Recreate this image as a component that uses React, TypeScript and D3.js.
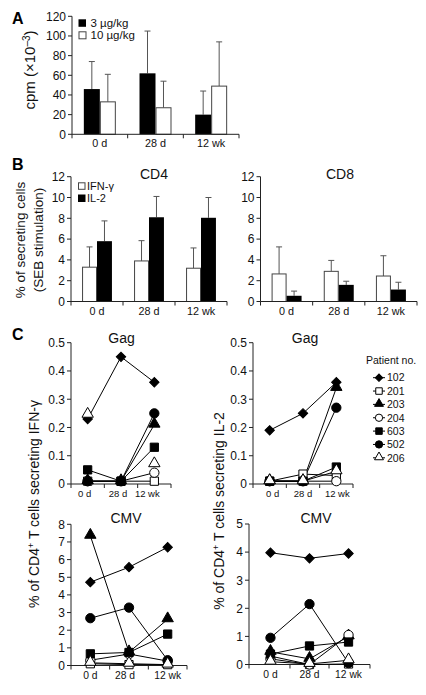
import React from "react";
import * as d3 from "d3";

// ---------- DATA ----------
const timepoints = ["0 d", "28 d", "12 wk"];

// Panel A: proliferation (cpm x10^-3)
const doseLabels = ["3 µg/kg", "10 µg/kg"];
const dose3Mean = [46, 62, 20];
const dose3Sd = [28, 43, 24];
const dose10Mean = [33, 27, 49];
const dose10Sd = [28, 27, 45];
const aTicks = [0, 20, 40, 60, 80, 100, 120];

// Panel B: % secreting cells (SEB)
const cytokineLabels = ["IFN-γ", "IL-2"];
const cd4IfnMean = [3.3, 3.9, 3.2];
const cd4IfnSd = [1.95, 1.95, 1.95];
const cd4Il2Mean = [5.8, 8.1, 8.05];
const cd4Il2Sd = [1.95, 2.0, 1.95];
const cd8IfnMean = [2.65, 2.9, 2.45];
const cd8IfnSd = [2.6, 1.05, 1.95];
const cd8Il2Mean = [0.55, 1.6, 1.15];
const cd8Il2Sd = [0.45, 0.35, 0.7];
const bTicks = [0, 2, 4, 6, 8, 10, 12];

// Panel C: per-patient responses
const patients = ["102", "201", "203", "204", "603", "502", "206"];
const gagIfn: (number | null)[][] = [
  [0.23, 0.45, 0.36],
  [0.01, 0.01, 0.01],
  [0.01, 0.01, 0.21],
  [0.01, 0.01, 0.04],
  [0.05, 0.01, 0.13],
  [0.01, 0.01, 0.25],
  [0.245, null, 0.07],
];
const gagIl2: (number | null)[][] = [
  [0.19, 0.25, 0.36],
  [0.01, 0.035, 0.03],
  [0.01, 0.01, 0.34],
  [0.01, 0.01, 0.01],
  [0.01, 0.01, 0.06],
  [0.01, 0.01, 0.27],
  [0.01, 0.01, 0.045],
];
const cmvIfn: (number | null)[][] = [
  [4.72, 5.57, 6.7],
  [0.1, 0.05, 0.05],
  [7.35, 0.75, 2.62],
  [0.3, 0.65, 0.25],
  [0.66, 0.74, 1.78],
  [2.68, 3.28, 0.3],
  [0.15, 0.1, 0.05],
];
const cmvIl2: (number | null)[][] = [
  [3.98, 3.78, 3.95],
  [0.3, 0.0, 0.02],
  [0.45, 0.2, 1.0],
  [0.2, 0.0, 1.05],
  [0.37, 0.66, 0.8],
  [0.95, 2.15, 0.05],
  [0.1, 0.02, 0.15],
];
const gagTicks = [0, 0.1, 0.2, 0.3, 0.4, 0.5];
const cmvIfnTicks = [0, 1, 2, 3, 4, 5, 6, 7, 8];
const cmvIl2Ticks = [0, 1, 2, 3, 4, 5];

// ---------- STYLE ----------
const FONT = "'Liberation Sans', Arial, Helvetica, sans-serif";
const AXIS = "#222";
const ERR = "#555";
const markerStyle: Record<string, { shape: string; filled: boolean }> = {
  "102": { shape: "diamond", filled: true },
  "201": { shape: "square", filled: false },
  "203": { shape: "triangle", filled: true },
  "204": { shape: "circle", filled: false },
  "603": { shape: "square", filled: true },
  "502": { shape: "circle", filled: true },
  "206": { shape: "triangle", filled: false },
};

function symbolPath(shape: string, scale = 1) {
  if (shape === "diamond") return d3.symbol(d3.symbolSquare, 44 * scale)()!;
  if (shape === "square") return d3.symbol(d3.symbolSquare, 68 * scale)()!;
  if (shape === "triangle") return d3.symbol(d3.symbolTriangle, 56 * scale)()!;
  return d3.symbol(d3.symbolCircle, 68 * scale)()!;
}

function Marker({ id, x, y, scale = 1 }: { id: string; x: number; y: number; scale?: number }) {
  const st = markerStyle[id];
  const rot = st.shape === "diamond" ? " rotate(45)" : "";
  const dy = st.shape === "triangle" ? -0.8 * Math.sqrt(scale) : 0;
  return (
    <path
      d={symbolPath(st.shape, scale)}
      transform={`translate(${x},${y + dy})${rot}`}
      fill={st.filled ? "#000" : "#fff"}
      stroke="#000"
      strokeWidth={1}
    />
  );
}

function YAxis({ x, scale, ticks, fmt, fontSize = 12 }: any) {
  const [d0, d1] = scale.domain();
  return (
    <g>
      <line x1={x} x2={x} y1={scale(d0)} y2={scale(d1)} stroke={AXIS} strokeWidth={1} />
      {ticks.map((t: number) => (
        <g key={t}>
          <line x1={x - 4} x2={x} y1={scale(t)} y2={scale(t)} stroke={AXIS} />
          <text
            x={x - 6}
            y={scale(t)}
            dy="0.36em"
            textAnchor="end"
            fontSize={fontSize}
            fontFamily={FONT}
            fill="#111"
          >
            {fmt ? fmt(t) : t}
          </text>
        </g>
      ))}
    </g>
  );
}

function XAxisBand({ y, x0, x1, boundaries, labels, fontSize = 10.8, labelDy = 13 }: any) {
  return (
    <g>
      <line x1={x0} x2={x1} y1={y} y2={y} stroke={AXIS} strokeWidth={1} />
      {boundaries.map((b: number, i: number) => (
        <line key={i} x1={b} x2={b} y1={y} y2={y + 4} stroke={AXIS} />
      ))}
      {labels.map((l: any, i: number) => (
        <text
          key={i}
          x={l.x}
          y={y + labelDy}
          textAnchor="middle"
          fontSize={fontSize}
          fontFamily={FONT}
          fill="#111"
        >
          {l.text}
        </text>
      ))}
    </g>
  );
}

function BarPanel({ x0, x1, yTop, yBottom, max, ticks, series }: any) {
  const xb = d3.scaleBand().domain(timepoints).range([x0, x1]).padding(0);
  const inner = d3
    .scaleBand()
    .domain(series.map((_: any, i: number) => String(i)))
    .range([0, xb.bandwidth()])
    .paddingInner(0)
    .paddingOuter(0.74);
  const y = d3.scaleLinear().domain([0, max]).range([yBottom, yTop]);
  const boundaries = [...timepoints.map((t) => xb(t)!), x1];
  return (
    <g>
      {series.map((s: any, si: number) =>
        timepoints.map((t, i) => {
          const bx = xb(t)! + inner(String(si))!;
          const bw = inner.bandwidth();
          const top = y(s.mean[i]);
          const et = y(s.mean[i] + s.sd[i]);
          const cx = bx + bw / 2;
          return (
            <g key={`${si}-${i}`}>
              <line x1={cx} x2={cx} y1={top} y2={et} stroke={ERR} strokeWidth={1} />
              <line x1={cx - 3} x2={cx + 3} y1={et} y2={et} stroke={ERR} strokeWidth={1} />
              <rect
                x={bx + (s.filled ? 0 : 0.5)}
                y={top}
                width={bw - (s.filled ? 0 : 1)}
                height={y(0) - top}
                fill={s.filled ? "#000" : "#fff"}
                stroke={s.filled ? "none" : "#444"}
                strokeWidth={1}
              />
            </g>
          );
        })
      )}
      <YAxis x={x0} scale={y} ticks={ticks} />
      <XAxisBand
        y={y(0)}
        x0={x0}
        x1={x1}
        boundaries={boundaries}
        labels={timepoints.map((t) => ({ text: t, x: xb(t)! + xb.bandwidth() / 2 }))}
      />
    </g>
  );
}

function LinePanel({ x0, x1, yTop, yBottom, max, ticks, data, fmt, pad = 0.5, labelFont = 10.3, labelShift = [0, 0, 0] }: any) {
  const xp = d3.scalePoint().domain(timepoints).range([x0, x1]).padding(pad);
  const y = d3.scaleLinear().domain([0, max]).range([yBottom, yTop]);
  const step = xp.step();
  const boundaries = [x0, ...timepoints.slice(0, -1).map((t) => xp(t)! + step / 2), x1];
  const line = d3
    .line<number | null>()
    .defined((d) => d !== null)
    .x((_, i) => xp(timepoints[i])!)
    .y((d) => y(d as number));
  return (
    <g>
      <YAxis x={x0} scale={y} ticks={ticks} fmt={fmt} />
      <XAxisBand
        y={y(0)}
        x0={x0}
        x1={x1}
        boundaries={boundaries}
        fontSize={labelFont}
        labels={timepoints.map((t, i) => ({ text: t, x: xp(t)! + labelShift[i] }))}
      />
      {data.map((vals: (number | null)[], pi: number) => (
        <path key={`l${pi}`} d={line(vals) || ""} fill="none" stroke="#000" strokeWidth={1} />
      ))}
      {data.map((vals: (number | null)[], pi: number) =>
        vals.map((v, i) =>
          v === null ? null : (
            <Marker key={`m${pi}-${i}`} id={patients[pi]} x={xp(timepoints[i])!} y={y(v)} />
          )
        )
      )}
    </g>
  );
}

function Title({ x, y, text, size = 14 }: any) {
  return (
    <text x={x} y={y} textAnchor="middle" fontSize={size} fontFamily={FONT} fill="#111">
      {text}
    </text>
  );
}

function Letter({ x, y, text }: any) {
  return (
    <text x={x} y={y} fontSize={16} fontWeight="bold" fontFamily={FONT} fill="#000">
      {text}
    </text>
  );
}

export default function App() {
  const gagFmt = (d: number) => (d === 0 ? "0" : d3.format(".1f")(d));
  return (
    <svg
      width={426}
      height={695}
      style={{ position: "absolute", left: 0, top: 0, background: "#fff" }}
      fontFamily={FONT}
    >
      <rect width={426} height={695} fill="#fff" />
      {/* ---------- A ---------- */}
      <Letter x={12} y={24} text="A" />
      <text
        transform="translate(35,70) rotate(-90)"
        textAnchor="middle"
        fontSize={15}
        fontFamily={FONT}
        fill="#111"
      >
        cpm (×10
        <tspan dy={-5} fontSize={10}>
          –3
        </tspan>
        <tspan dy={5}>)</tspan>
      </text>
      <BarPanel
        x0={72}
        x1={239}
        yTop={16.3}
        yBottom={134.3}
        max={120}
        ticks={aTicks}
        series={[
          { mean: dose3Mean, sd: dose3Sd, filled: true },
          { mean: dose10Mean, sd: dose10Sd, filled: false },
        ]}
      />
      <rect x={78.5} y={19.3} width={7.5} height={7.5} fill="#000" />
      <rect x={79} y={31.8} width={7} height={7} fill="#fff" stroke="#444" />
      <text x={90.5} y={27} fontSize={11.5} fontFamily={FONT} fill="#111">
        {doseLabels[0]}
      </text>
      <text x={90.5} y={39.3} fontSize={11.5} fontFamily={FONT} fill="#111">
        {doseLabels[1]}
      </text>

      {/* ---------- B ---------- */}
      <Letter x={12} y={170} text="B" />
      <text
        transform="translate(24.5,240) rotate(-90)"
        textAnchor="middle"
        fontSize={13.5}
        fontFamily={FONT}
        fill="#111"
      >
        % of secreting cells
      </text>
      <text
        transform="translate(42.5,240) rotate(-90)"
        textAnchor="middle"
        fontSize={13.5}
        fontFamily={FONT}
        fill="#111"
      >
        (SEB stimulation)
      </text>
      <Title x={154} y={178.5} text="CD4" />
      <Title x={340} y={178.5} text="CD8" />
      <BarPanel
        x0={71}
        x1={227}
        yTop={176.7}
        yBottom={301.5}
        max={12}
        ticks={bTicks}
        series={[
          { mean: cd4IfnMean, sd: cd4IfnSd, filled: false },
          { mean: cd4Il2Mean, sd: cd4Il2Sd, filled: true },
        ]}
      />
      <BarPanel
        x0={260.5}
        x1={417}
        yTop={176.7}
        yBottom={301.5}
        max={12}
        ticks={bTicks}
        series={[
          { mean: cd8IfnMean, sd: cd8IfnSd, filled: false },
          { mean: cd8Il2Mean, sd: cd8Il2Sd, filled: true },
        ]}
      />
      <rect x={78.5} y={182.8} width={6.5} height={6.5} fill="#fff" stroke="#444" />
      <rect x={78} y={194.5} width={7.5} height={7.5} fill="#000" />
      <text x={87} y={190} fontSize={11} fontFamily={FONT} fill="#111">
        {cytokineLabels[0]}
      </text>
      <text x={87} y={201.8} fontSize={11} fontFamily={FONT} fill="#111">
        {cytokineLabels[1]}
      </text>

      {/* ---------- C ---------- */}
      <Letter x={12} y={340} text="C" />
      <text
        transform="translate(39,504) rotate(-90)"
        textAnchor="middle"
        fontSize={14}
        fontFamily={FONT}
        fill="#111"
      >
        % of CD4
        <tspan dy={-5} fontSize={9}>
          +
        </tspan>
        <tspan dy={5}> T cells secreting IFN-γ</tspan>
      </text>
      <text
        transform="translate(224,511) rotate(-90)"
        textAnchor="middle"
        fontSize={14}
        fontFamily={FONT}
        fill="#111"
      >
        % of CD4
        <tspan dy={-5} fontSize={9}>
          +
        </tspan>
        <tspan dy={5}> T cells secreting IL-2</tspan>
      </text>
      <Title x={121.5} y={342.5} text="Gag" />
      <Title x={305} y={342.5} text="Gag" />
      <Title x={126} y={523} text="CMV" />
      <Title x={316} y={523} text="CMV" />

      <LinePanel
        x0={71}
        x1={171}
        yTop={342.7}
        yBottom={484}
        max={0.5}
        ticks={gagTicks}
        fmt={gagFmt}
        data={gagIfn}
        labelFont={9.5}
        labelShift={[-3, -3, -7]}
      />
      <LinePanel
        x0={253}
        x1={353}
        yTop={342.7}
        yBottom={484}
        max={0.5}
        ticks={gagTicks}
        fmt={gagFmt}
        data={gagIl2}
        labelFont={9.5}
        labelShift={[3, 0, 1]}
      />
      <LinePanel
        x0={71}
        x1={187}
        yTop={524.3}
        yBottom={665.5}
        max={8}
        ticks={cmvIfnTicks}
        data={cmvIfn}
        labelFont={10.3}
        labelShift={[0, -4, 0]}
      />
      <LinePanel
        x0={249}
        x1={370}
        yTop={524}
        yBottom={664.5}
        max={5}
        ticks={cmvIl2Ticks}
        data={cmvIl2}
        pad={0.55}
        labelFont={10.3}
      />

      {/* legend C */}
      <text x={366} y={364} fontSize={10.5} fontFamily={FONT} fill="#111">
        Patient no.
      </text>
      {patients.map((p, i) => {
        const ly = 377.7 + i * 13.35;
        return (
          <g key={p}>
            <line x1={373} x2={385} y1={ly} y2={ly} stroke="#000" />
            <Marker id={p} x={379} y={ly} scale={0.62} />
            <text x={387} y={ly} dy="0.36em" fontSize={10.5} fontFamily={FONT} fill="#111">
              {p}
            </text>
          </g>
        );
      })}
    </svg>
  );
}
